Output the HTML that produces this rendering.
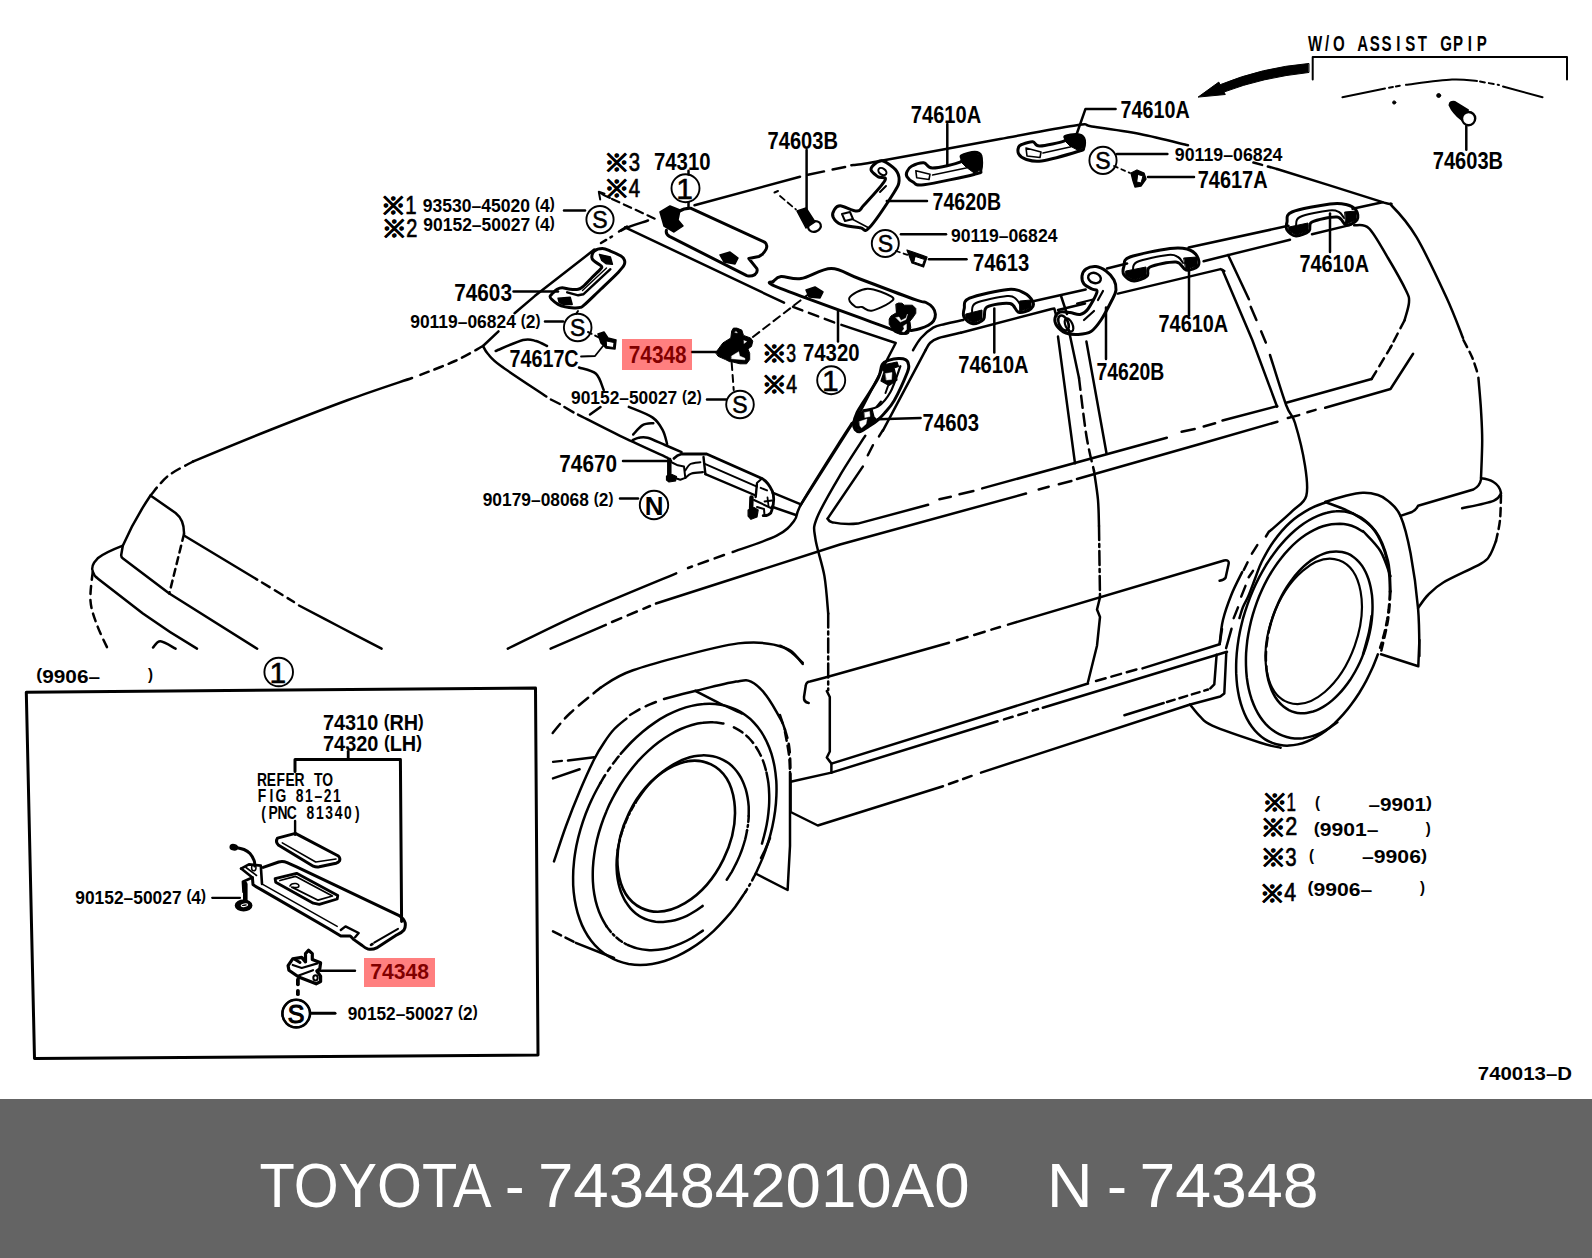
<!DOCTYPE html>
<html lang="en"><head><meta charset="utf-8"><title>TOYOTA - 7434842010A0 N - 74348</title>
<style>
html,body{margin:0;padding:0;background:#fff;}
body{width:1592px;height:1258px;overflow:hidden;position:relative;font-family:"Liberation Sans","Noto Sans CJK JP",sans-serif;}
svg{position:absolute;left:0;top:0;display:block}
svg path,svg circle,svg ellipse{fill:none;stroke:#000;stroke-width:2.5;stroke-linecap:round;stroke-linejoin:round}
svg text{font-family:"Liberation Sans","Noto Sans CJK JP",sans-serif;fill:#000;stroke:none}
svg text.b{font-weight:bold}
svg text.m{font-family:"Liberation Mono","DejaVu Sans Mono",monospace;font-weight:bold}
svg text.n{font-weight:normal}
svg text.sk{stroke:#000;stroke-width:0.55px}
svg text.sk3{stroke:#000;stroke-width:0.7px}
svg text.sk2{stroke:#000;stroke-width:1.1px}
svg text.k{font-family:"IPAGothic","DejaVu Sans","Noto Sans CJK JP",sans-serif;font-weight:bold;stroke:#000;stroke-width:0.5px}
svg g.ft text{fill:#fff;font-weight:normal;font-size:63.5px}
</style></head><body>
<svg width="1592" height="1258" viewBox="0 0 1592 1258">
<g id="car">
<path d="M483 346 C478.3 348.5 465.5 356.2 455 361 C444.5 365.8 425.8 372.7 420 375" stroke-dasharray="9 6"/>
<path d="M412 378 C401.3 381.7 371.7 391.3 348 400 C324.3 408.7 295.8 419.8 270 430 C244.2 440.2 205.8 456.2 193 461.5"/>
<path d="M193 461.5 C188.8 463.9 175.1 470.3 168 476 C160.9 481.7 153.4 492.2 150.5 495.5" stroke-dasharray="9 6"/>
<path d="M150.5 495.5 L175.6 513 Q184.4 520 184 534"/>
<path d="M184 534 L169.3 593.5" stroke-dasharray="7 5"/>
<path d="M150.5 495.5 Q134 520 122.8 545.7 L121.2 555 Q121 557 123 558.5 L169.3 593.5 L257.2 648.7"/>
<path d="M184.4 535.7 L257.2 579.6"/>
<path d="M262 582.5 L294 602" stroke-dasharray="9 6"/>
<path d="M299 605.5 C305.8 609.1 326.2 619.8 340 627 C353.8 634.2 374.7 645.1 381.6 648.7"/>
<path d="M122.8 545.7 Q104 553 97.7 558.3 Q90 566 93 572 Q94 576 97.7 578.4 L142.9 613.6 Q170 633 197 648.7"/>
<path d="M92.7 572 C92.3 576.8 89.8 592.2 90.5 601 C91.2 609.8 94.1 617 97 625 C99.9 633 105.9 644.8 107.7 648.7" stroke-dasharray="8 6"/>
<path d="M153 647.5 C154.2 646.5 156.7 641 160.5 641.2 C164.3 641.4 173.1 647.5 175.6 648.7"/>
<path d="M483 346 L498.5 331.3"/>
<path d="M514.6 313.2 L534.7 296.1 L594.3 249.6"/>
<path d="M601 243 L612 236.5" stroke-dasharray="6 5"/>
<path d="M621 230.6 C622.3 230 624.5 228.5 629 226.8 C633.5 225.1 644.8 221.6 648 220.5"/>
<path d="M619 231.5 L627 226.5"/>
<path d="M483 346 C483.8 347.3 485 350.7 488 354 C491 357.3 491.3 358.9 501 366 C510.7 373.1 538.8 391.4 546.3 396.5"/>
<path d="M550.9 399.5 L559.9 404"/>
<path d="M564.4 407 L573.5 412.4"/>
<path d="M578 414.6 C585 418.1 605 428.6 620 435.8 C635 443 659.8 454.1 667.7 457.8"/>
<path d="M495.7 351 C500.2 349.2 516.3 341.7 523 340 C529.7 338.3 532 340 536 341 C540 342 545.2 345.2 547 346"/>
<path d="M579 367.5 C581.8 368.6 591.9 370.1 596 373.8 C600.1 377.6 602.4 387.3 603.7 390"/>
<path d="M590 414.5 L600.5 407"/>
<path d="M628.8 406.9 C632.8 408.7 647.1 413.7 652.7 417.6 C658.4 421.5 660.3 425.8 662.7 430.2 C665.1 434.6 666.4 441.7 667.1 444"/>
<path d="M633.2 434.5 C634.8 432.9 639.2 427 642.6 425.1 C646 423.2 651.5 423.5 653.3 423.2"/>
<path d="M632.6 440.2 C633.6 439.8 636.3 438.1 638.8 437.7 C641.3 437.3 643.2 436.5 647.6 437.7 C652 438.9 659.3 442.6 665 445 C670.7 447.4 678.8 450.9 681.6 452.1"/>
<path d="M625.1 227.3 L784 302.7"/>
<path d="M793 306.8 L835.3 322.9" stroke-dasharray="10 7"/>
<path d="M841.4 324.9 L895.7 343 L861.5 409.3 L800 506"/>
<path d="M694.5 205.2 L800 176.7"/>
<path d="M808 174.8 L824 171.4"/>
<path d="M832.6 169.6 L845.1 167.1"/>
<path d="M851.4 165.2 C855.5 164.6 850.9 166.1 875.7 161.7 C900.5 157.3 966.5 145.1 1000 139 C1033.5 132.9 1061.4 127.3 1076.7 125.2 C1092 123.1 1081.2 125 1091.8 126.5 C1102.3 128 1124 130.9 1140 134 C1156 137.1 1180 143.4 1188 145.3"/>
<path d="M1253.4 162.5 L1277 169" stroke-dasharray="9 6"/>
<path d="M1277 169 C1294.3 174.4 1361.8 195.4 1381 201.6 C1400.2 207.8 1386.1 200.1 1392 206 C1397.9 211.9 1407.5 222.1 1416.5 237.2 C1425.5 252.3 1438.2 279.7 1446 296.5 C1453.8 313.3 1460.2 331.1 1463 338"/>
<path d="M1463.4 340 C1464.8 342.8 1469.7 351.7 1472 357 C1474.3 362.3 1476.3 369.5 1477.2 372" stroke-dasharray="8 5"/>
<path d="M1478.4 377.7 C1478.8 383.1 1480.4 399.5 1481 410 C1481.6 420.5 1482.2 429.1 1482.2 440.5 C1482.2 451.9 1481.2 471.9 1481 478.2"/>
<path d="M852 423 C850 426.1 848.4 428.2 840 441.5 C831.6 454.8 809.4 489.8 801.8 503 C794.2 516.2 798.5 515.1 794.3 520.6 C790.1 526.1 787 530.5 776.7 535.7 C766.4 540.9 740 549.3 732.7 552"/>
<path d="M724 555 L688 568" stroke-dasharray="10 7"/>
<path d="M676.2 573.4 C660.3 580.1 608.8 601 580.7 613.6 C552.6 626.2 520 642.9 507.8 648.7"/>
<path d="M865.3 435.7 C861.1 442.3 848.1 461.7 840 475.4 C831.9 489.1 821 507.5 816.9 518 C812.8 528.5 814 528.6 815.3 538.2 C816.5 547.9 822.2 563.3 824.4 575.9 C826.5 588.5 827.6 607.3 828.2 613.6"/>
<path d="M828.2 613.6 L828.2 690" stroke-dasharray="14 4 3 4"/>
<path d="M826.8 691 L829.8 697 L829.8 751.5 L826.8 757.5 L831.4 763.6 L831.4 772.6"/>
<path d="M550.6 648.7 L605.8 624.9"/>
<path d="M612 622 L650 606" stroke-dasharray="10 7"/>
<path d="M656 603.5 L840 544.5 L1026 493.5"/>
<path d="M1038.7 489.5 L1048.7 486.7"/>
<path d="M1058.8 484.2 L1071.4 481"/>
<path d="M1077 479 L1200 444 L1277.4 421.7"/>
<path d="M1287.8 418 L1299.2 415.1"/>
<path d="M1307.4 412.3 L1315.6 409.9"/>
<path d="M1325.2 407.8 L1390.5 389 L1413.1 353.8"/>
<path d="M925.6 350.2 L882.9 430.6"/>
<path d="M882.9 430.2 L879 436.4"/>
<path d="M872.9 445.2 L867.8 455.3"/>
<path d="M862.8 466.6 L827.6 518.6"/>
<path d="M827.6 518.6 Q829 522 832.7 522.4 Q845 525 857.8 523.6 L928.1 504.8"/>
<path d="M939.4 499.2 L950.8 496.7"/>
<path d="M959.5 494.2 L973.4 491"/>
<path d="M982.2 488.4 L1166.8 437.7"/>
<path d="M1181.6 431.8 L1194.7 429"/>
<path d="M1203.7 426.5 L1215.1 423.3"/>
<path d="M1222.5 420.5 L1277.2 406.1"/>
<path d="M1286.2 402.8 L1371.6 379"/>
<path d="M1371.6 379 L1392 345" stroke-dasharray="9 6"/>
<path d="M913 350.2 C914.3 348.2 917.6 341.8 921 338 C924.4 334.2 929.2 329.9 933.2 327.6 C937.2 325.3 940 325.3 945 324 C950 322.7 960.2 320.7 963.3 320"/>
<path d="M925.6 350.2 C926.3 349 927.9 345 930 343 C932.1 341 933.1 339.9 938.2 338.2 C943.3 336.5 957 333.7 960.8 332.8"/>
<path d="M960.8 332.8 L1051.5 309 L1054.3 308.6 L1056.3 316"/>
<path d="M1058 336.6 L1075 463.3"/>
<path d="M1061.2 296.5 L1067 314"/>
<path d="M1068.8 330 L1079 378"/>
<path d="M1079 378 C1080.2 387.6 1083.9 420.2 1086.4 435.7 C1088.9 451.2 1092.7 465 1094 470.9" stroke-dasharray="12 6"/>
<path d="M1094 470.9 C1094.7 475.8 1097.2 490.8 1098 500 C1098.8 509.2 1098.8 521.7 1099 526"/>
<path d="M1099 526 L1100 597.4" stroke-dasharray="14 4 3 4"/>
<path d="M1100 597.4 L1097 609.5 L1100 617 L1097 645.7 L1088 682"/>
<path d="M1086.4 341.5 L1106.5 453.3"/>
<path d="M1032 301.5 L1085.7 289.5"/>
<path d="M1107 268.5 L1127 263.5"/>
<path d="M1188.6 247.5 L1288.4 225.8"/>
<path d="M1352.5 208.8 L1382.6 202.2"/>
<path d="M1058 310 L1085 303.5"/>
<path d="M1203.6 261.2 L1290 239.7"/>
<path d="M1312 234.2 L1350.6 224.9"/>
<path d="M1117.9 293.6 L1220.6 269.1 L1224.4 271"/>
<path d="M1222.5 270 L1252.3 340 L1277.1 406.7"/>
<path d="M1228.1 255 L1248.9 299.3"/>
<path d="M1250.7 306.8 L1256.4 320"/>
<path d="M1261.1 331.3 L1265.8 342.6"/>
<path d="M1270 355 C1272.7 363.4 1282 394 1286.2 405.3 C1290.4 416.6 1291.9 412.9 1295 423 C1298.1 433.1 1303.1 453.5 1305 465.6 C1306.9 477.7 1308.4 488.2 1306.3 495.8 C1304.2 503.4 1298.5 505 1292.5 510.9 C1286.5 516.8 1273.8 527.6 1270 531"/>
<path d="M1354.2 225.3 C1356.7 225.8 1363.4 222.9 1369 228.3 C1374.6 233.8 1381.8 247.6 1388 258 C1394.2 268.4 1402.5 283.1 1406 290.5 C1409.5 297.9 1409.2 297.4 1409 302.4 C1408.8 307.3 1405.3 317.2 1404.6 320.2"/>
<path d="M1404.6 320.2 L1390.5 347.5" stroke-dasharray="9 6"/>
<path d="M1481 478.2 Q1489 479 1493.5 482 Q1500 486 1501 493"/>
<path d="M1501 495 C1500.8 499.2 1500.8 512.3 1500 520 C1499.2 527.7 1496.7 537.5 1496 541" stroke-dasharray="8 5"/>
<path d="M1496 541 C1495 543.3 1492.5 551.2 1490 555 C1487.5 558.8 1488.8 559 1481 563.6 C1473.2 568.2 1452.1 577.3 1443.3 582.5 C1434.5 587.7 1432.2 590.8 1428 595 C1423.8 599.2 1419.8 605.8 1418.1 608"/>
<path d="M1481 479.4 Q1480 486 1473.4 489.5 L1418.1 505.8 Q1416 510 1412 512 L1400.5 515.9"/>
<path d="M1462.1 508.3 C1467.3 507.1 1487 503.3 1493.5 500.8 C1500 498.3 1499.8 494.6 1501 493.3"/>
<path d="M1325.2 502 C1328.5 501 1338.7 497.5 1345 496 C1351.3 494.5 1357.4 493 1362.9 492.8 C1368.4 492.6 1373.8 493.7 1378 495 C1382.2 496.3 1384.2 497.3 1388 500.8 C1391.8 504.3 1396.7 507.1 1400.5 515.9 C1404.3 524.7 1407.7 538.1 1410.6 553.6 C1413.5 569.1 1416.6 591.7 1418.1 608.8 C1419.6 625.9 1419.2 648.1 1419.4 656"/>
<path d="M1325.2 502 C1329.8 503.9 1344.4 508.6 1352.8 513.4 C1361.2 518.2 1369.5 523.1 1375.4 531 C1381.3 538.9 1385.5 551 1388 561 C1390.5 571 1390.1 586.2 1390.5 591.3"/>
<path d="M1390.5 591.3 C1390.1 596.1 1389.6 609.9 1388 620 C1386.4 630.1 1382.2 646.7 1381 652" stroke-dasharray="8 5"/>
<path d="M1219.7 644 C1220.2 640 1220.9 628.5 1222.9 620.2 C1224.9 612 1228.3 602.5 1231.5 594.5 C1234.7 586.5 1240.4 575.8 1242.2 572"/>
<path d="M1239.5 618 C1240.1 616.2 1241.5 610.7 1243 607 C1244.5 603.3 1246.4 600.8 1248.4 596 C1250.4 591.2 1252.9 584.2 1255.1 578.5 C1257.3 572.8 1258.7 567.9 1261.7 561.8 C1264.8 555.7 1268.7 548.2 1273.4 541.7 C1278.1 535.2 1284.1 527.9 1290.1 522.5 C1296.1 517.1 1303.4 512.5 1309.3 509.2 C1315.2 505.9 1322.5 503.6 1325.2 502.5"/>
<path d="M1243.8 570 L1247.6 562.3"/>
<path d="M1251.9 553.7 L1257.3 545.1"/>
<path d="M1265.9 536.5 L1269 531.5"/>
<path d="M1226.1 648.1 L1231.5 628.8"/>
<path d="M1233.7 618.1 L1238 607.4"/>
<path d="M1241.2 596.6 L1245.5 585.9"/>
<path d="M1248.7 577.3 L1253 570.9"/>
<path d="M1352.8 513.5 C1351.4 513.2 1347.4 511.9 1344.6 511.5 C1341.8 511.2 1338.9 511.1 1335.9 511.3 C1333 511.4 1330 511.9 1327 512.7 C1324 513.4 1320.9 514.5 1317.8 515.8 C1314.7 517.1 1311.6 518.6 1308.6 520.5 C1305.5 522.3 1302.4 524.4 1299.4 526.8 C1296.4 529.1 1293.4 531.7 1290.4 534.5 C1287.5 537.3 1284.6 540.4 1281.8 543.6 C1278.9 546.8 1276.2 550.3 1273.6 553.9 C1270.9 557.5 1268.4 561.4 1265.9 565.3 C1263.5 569.3 1261.2 573.4 1259 577.6 C1256.8 581.9 1254.7 586.2 1252.8 590.7 C1250.9 595.1 1249.1 599.7 1247.5 604.3 C1245.9 608.9 1244.4 613.5 1243.1 618.2 C1241.9 622.9 1240.7 627.6 1239.8 632.3 C1238.8 637 1238.1 641.7 1237.5 646.3 C1236.9 650.9 1236.5 655.6 1236.3 660.1 C1236.1 664.6 1236.1 669.1 1236.2 673.4 C1236.4 677.7 1236.7 682 1237.2 686.1 C1237.7 690.1 1238.5 694.1 1239.3 697.9 C1240.2 701.7 1241.3 705.3 1242.5 708.7 C1243.7 712.1 1245.1 715.4 1246.7 718.4 C1248.3 721.4 1250 724.2 1251.9 726.8 C1253.7 729.3 1255.7 731.6 1257.9 733.7 C1260 735.8 1262.3 737.6 1264.7 739.1 C1267.1 740.7 1269.6 741.9 1272.2 742.9 C1274.9 743.9 1277.6 744.7 1280.4 745.1 C1283.1 745.6 1286 745.7 1289 745.6 C1291.9 745.5 1294.9 745.1 1297.9 744.4 C1300.9 743.7 1304 742.7 1307 741.5 C1310.1 740.3 1313.2 738.8 1316.3 737 C1319.3 735.2 1322.4 733.2 1325.5 730.9 C1328.5 728.6 1331.5 726.1 1334.5 723.4 C1337.4 720.6 1340.4 717.6 1343.2 714.4 C1346 711.2 1348.8 707.8 1351.4 704.2 C1354.1 700.7 1356.7 696.9 1359.2 693 C1361.6 689 1364 684.9 1366.2 680.8 C1368.4 676.6 1370.5 672.2 1372.5 667.8 C1374.4 663.4 1377 656.5 1377.9 654.3"/>
<path d="M1352.8 513.5 C1354.1 514.2 1358.4 515.9 1361.1 517.5 C1363.7 519.2 1366.2 521.2 1368.5 523.5 C1370.8 525.8 1373 528.4 1375 531.3 C1377 534.1 1378.8 537.3 1380.4 540.7 C1382 544.1 1383.5 547.8 1384.7 551.7 C1385.9 555.5 1386.9 559.7 1387.7 563.9 C1388.5 568.2 1389.1 572.7 1389.5 577.3 C1389.8 581.9 1389.8 589.2 1389.9 591.6"/>
<path d="M1389.9 591.6 C1389.8 593.1 1389.7 597.6 1389.5 600.7 C1389.2 603.8 1388.9 606.9 1388.6 610 C1388.2 613.1 1387.7 616.3 1387.2 619.4 C1386.6 622.6 1386 625.7 1385.3 628.9 C1384.6 632 1383.8 635.2 1382.9 638.3 C1382.1 641.5 1380.6 646.2 1380.1 647.7" stroke-dasharray="8 5"/>
<path d="M1362.7 531.5 C1361.5 530.8 1358 528.5 1355.6 527.4 C1353.1 526.3 1350.6 525.4 1348 524.8 C1345.3 524.2 1342.6 523.8 1339.9 523.7 C1337.1 523.7 1334.3 523.8 1331.5 524.2 C1328.7 524.7 1325.8 525.3 1322.9 526.3 C1320.1 527.2 1317.2 528.4 1314.3 529.8 C1311.4 531.2 1308.5 532.9 1305.7 534.8 C1302.9 536.7 1300 538.8 1297.3 541.1 C1294.5 543.5 1291.8 546.1 1289.2 548.8 C1286.5 551.6 1283.9 554.5 1281.5 557.7 C1279 560.8 1276.6 564.1 1274.3 567.6 C1272 571 1269.8 574.7 1267.7 578.4 C1265.7 582.1 1263.7 586 1261.9 590 C1260.1 593.9 1258.4 598 1256.9 602.1 C1255.4 606.3 1254 610.5 1252.8 614.7 C1251.5 619 1250.5 623.3 1249.6 627.6 C1248.7 631.8 1247.9 636.2 1247.3 640.4 C1246.8 644.7 1246.4 649 1246.1 653.2 C1245.9 657.4 1245.9 661.5 1246 665.6 C1246.1 669.7 1246.4 673.7 1246.8 677.5 C1247.3 681.4 1247.9 685.2 1248.7 688.8 C1249.5 692.4 1250.5 695.9 1251.6 699.2 C1252.8 702.5 1254 705.7 1255.5 708.7 C1256.9 711.6 1258.5 714.4 1260.2 717 C1261.9 719.6 1263.8 721.9 1265.8 724.1 C1267.8 726.2 1269.9 728.2 1272.1 729.8 C1274.3 731.5 1276.7 733 1279.1 734.2 C1281.5 735.4 1284.1 736.3 1286.7 737 C1289.3 737.7 1291.9 738.2 1294.7 738.4 C1297.4 738.6 1300.2 738.5 1303 738.2 C1305.8 737.8 1308.7 737.2 1311.5 736.4 C1314.4 735.6 1317.3 734.5 1320.2 733.1 C1323.1 731.8 1326 730.2 1328.8 728.4 C1331.6 726.6 1335.8 723.3 1337.3 722.3"/>
<path d="M1362.9 531 C1365.8 534.3 1375.8 543.5 1380.4 551 C1385 558.5 1388.8 572 1390.5 576.2"/>
<path d="M1270.6 624.1 C1271.1 622.5 1272.5 617.6 1273.7 614.3 C1274.8 611.1 1276 608 1277.4 604.9 C1278.7 601.8 1280.2 598.7 1281.7 595.8 C1283.3 592.8 1284.9 590 1286.7 587.2 C1288.4 584.5 1290.2 581.9 1292.1 579.4 C1293.9 576.9 1295.9 574.5 1297.9 572.3 C1299.8 570.1 1301.9 568 1304 566.1 C1306.1 564.2 1308.2 562.5 1310.3 560.9 C1312.5 559.4 1314.6 558 1316.8 556.8 C1319 555.6 1321.2 554.6 1323.3 553.8 C1325.5 553 1327.7 552.4 1329.8 552 C1331.9 551.6 1334 551.4 1336.1 551.4 C1338.1 551.4 1340.2 551.6 1342.1 551.9 C1344.1 552.3 1346 552.9 1347.8 553.7 C1349.7 554.5 1351.4 555.5 1353.1 556.7 C1354.8 557.8 1356.4 559.2 1357.9 560.8 C1359.4 562.3 1360.8 564 1362.1 565.9 C1363.4 567.8 1364.5 569.8 1365.6 572 C1366.7 574.2 1367.6 576.6 1368.5 579.1 C1369.3 581.6 1370 584.2 1370.6 586.9 C1371.2 589.6 1371.6 592.5 1372 595.4 C1372.3 598.4 1372.5 601.4 1372.5 604.5 C1372.6 607.6 1372.5 610.8 1372.3 614 C1372.1 617.2 1371.8 620.4 1371.3 623.7 C1370.8 627 1370.2 630.3 1369.5 633.6 C1368.8 636.9 1367.9 640.2 1366.9 643.4 C1366 646.7 1364.9 650 1363.7 653.1 C1362.5 656.3 1361.2 659.5 1359.8 662.5 C1358.4 665.6 1356.8 668.6 1355.2 671.5 C1353.6 674.3 1351.9 677.1 1350.2 679.8 C1348.4 682.5 1346.5 685 1344.6 687.4 C1342.7 689.8 1340.8 692.1 1338.7 694.2 C1336.7 696.4 1334.6 698.3 1332.5 700.1 C1330.4 701.9 1328.3 703.6 1326.1 705 C1324 706.5 1321.8 707.7 1319.6 708.8 C1317.5 709.9 1315.3 710.8 1313.1 711.5 C1311 712.1 1308.8 712.6 1306.7 712.9 C1304.6 713.2 1302.5 713.3 1300.5 713.2 C1298.4 713.1 1296.4 712.8 1294.5 712.2 C1292.6 711.7 1290.7 711 1288.9 710.1 C1287.2 709.2 1285.4 708.1 1283.8 706.8 C1282.2 705.5 1280.6 704.1 1279.2 702.4 C1277.8 700.8 1276.4 698.9 1275.2 697 C1274 695 1272.8 692.8 1271.8 690.5 C1270.9 688.2 1270 685.8 1269.2 683.2 C1268.4 680.7 1267.8 678 1267.3 675.2 C1266.8 672.4 1266.4 668 1266.2 666.5"/>
<path d="M1270.6 624.1 C1270.3 625.3 1269.4 628.9 1268.8 631.3 C1268.3 633.8 1267.9 636.2 1267.5 638.6 C1267.1 641 1266.8 643.4 1266.5 645.8 C1266.3 648.2 1266.1 650.5 1266 652.9 C1265.9 655.2 1265.8 657.5 1265.9 659.8 C1265.9 662.1 1266.1 665.4 1266.2 666.5" stroke-dasharray="9 5"/>
<ellipse cx="1313.7" cy="631.4" rx="43.5" ry="75.5" transform="rotate(-160.4 1313.7 631.4)" style="stroke-width:2.2;"/>
<path d="M1371.6 616 C1371.2 618.7 1370.4 625.6 1369 632 C1367.6 638.4 1364 650.6 1363 654.3"/>
<path d="M1381 654.3 L1418.3 666.3 L1419.4 640"/>
<path d="M1190 704.5 C1191.7 706.5 1196.5 713.1 1200.2 716.6 C1203.9 720.1 1202.2 721.2 1212.3 725.6 C1222.3 730 1249.1 739 1260.5 742.7 C1271.9 746.4 1277.2 746.9 1280.6 747.7"/>
<path d="M808.7 703 Q803.5 702 804 697 L805.7 686 Q806 682 810 681.5 L825.3 677.5 L949 642.7"/>
<path d="M957 640.3 L1000 627" stroke-dasharray="11 7"/>
<path d="M1008 624.6 L1224 560.5 Q1229.5 559.5 1228.6 564 L1225.6 577.8 Q1224 580 1219.6 580.8"/>
<path d="M831.4 763.6 L1088 683.5"/>
<path d="M1096 681 L1138 669" stroke-dasharray="10 6"/>
<path d="M1142.5 668.4 L1219.6 644.2 L1222 629"/>
<path d="M831.4 772.6 L997.5 721.3"/>
<path d="M1004 719.4 L1038 709" stroke-dasharray="9 6"/>
<path d="M1042.8 707.7 L1227 651.8"/>
<path d="M790.6 781.7 L831.4 772.6"/>
<path d="M790.6 781.7 L790.6 812 L817.8 825.5 L943 786.2"/>
<path d="M949 784 L977 774" stroke-dasharray="9 6"/>
<path d="M981 772.6 L1189.4 704.7 L1220.3 696.5 L1224.3 693.5 L1226.3 652.3"/>
<path d="M1124.4 715.2 L1163.7 703"/>
<path d="M1167 702 L1208 689.5" stroke-dasharray="8 5"/>
<path d="M1210.3 688.4 L1214.3 684.4 L1216.6 654.8"/>
<path d="M552.7 733 C555.6 729.7 562.3 720.5 570.3 713 C578.2 705.5 595.4 692 600.4 687.8" stroke-dasharray="12 7"/>
<path d="M600.4 687.8 C605.8 684.9 613.7 677 633 670.3 C652.3 663.6 695.9 652.2 716 647.6 C736.1 643 742.4 642.6 753.7 642.6 C765 642.6 775.6 644.2 783.8 647.6 C792 651 799.6 660.2 802.7 662.7"/>
<path d="M664 699 C669.3 697.6 684 693.7 696 690.8 C708 687.9 726.8 683.1 736 681.6 C745.2 680.1 746 679.3 751 681.6 C756 683.9 761.2 688.9 766.2 695.4 C771.2 701.9 778.2 714.7 781.3 720.5 C784.4 726.3 784.4 728.4 785 730"/>
<path d="M785 732 C785.7 735.8 788.2 748.3 789 755 C789.8 761.7 789.8 769.2 790 772" stroke-dasharray="9 5"/>
<path d="M790 772 L790 846 L787.6 890 L756.5 874"/>
<path d="M695.4 690.9 C699.5 693 712.2 699.7 720 703.5 C727.8 707.3 738.3 711.8 742 713.5"/>
<path d="M770 838 C769.2 840 766.5 846.7 765 850 C763.5 853.3 761.7 856.7 761 858"/>
<path d="M620.7 753.8 C622.5 751.8 627.8 745.7 631.5 742 C635.2 738.3 639.1 734.8 643 731.5 C646.8 728.3 650.8 725.3 654.8 722.6 C658.9 719.8 662.9 717.4 667 715.2 C671.1 713.1 675.2 711.2 679.3 709.6 C683.4 708.1 687.5 706.8 691.6 705.9 C695.6 704.9 699.6 704.3 703.5 704 C707.5 703.6 711.3 703.6 715.1 704 C718.9 704.3 722.5 704.9 726.1 705.9 C729.6 706.8 733 708.1 736.3 709.7 C739.6 711.2 742.7 713.1 745.6 715.3 C748.6 717.4 751.4 719.9 753.9 722.6 C756.5 725.3 758.9 728.3 761.1 731.6 C763.2 734.8 765.2 738.3 766.9 742.1 C768.7 745.8 770.2 749.7 771.5 753.9 C772.7 758 773.8 762.4 774.6 766.9 C775.4 771.4 775.9 776.1 776.3 780.9 C776.6 785.7 776.6 790.6 776.4 795.6 C776.2 800.7 775.8 805.8 775.1 811 C774.4 816.1 773.5 821.4 772.4 826.6 C771.2 831.9 769.8 837.2 768.2 842.4 C766.5 847.7 764.7 852.9 762.6 858.1 C760.5 863.2 756.9 870.8 755.8 873.4"/>
<path d="M755.8 873.4 C755.5 873.9 754.7 875.6 754.1 876.6 C753.6 877.7 753 878.8 752.4 879.9 C751.9 880.9 751.3 882 750.7 883.1 C750.1 884.1 749.5 885.2 748.9 886.2 C748.3 887.3 747.7 888.3 747 889.3 C746.4 890.4 745.4 891.9 745.1 892.4" stroke-dasharray="8 4 2 4"/>
<path d="M745.1 892.4 C743.5 894.7 738.9 901.9 735.5 906.4 C732.2 910.8 728.7 915.1 725 919.2 C721.4 923.3 717.6 927.2 713.8 930.8 C709.9 934.4 705.9 937.8 701.9 940.9 C697.9 944 693.7 946.8 689.6 949.4 C685.5 951.9 681.3 954.2 677.1 956.1 C672.9 958 668.7 959.7 664.6 961 C660.4 962.3 656.3 963.3 652.2 963.9 C648.1 964.6 644.1 964.9 640.1 964.9 C636.2 964.9 632.3 964.5 628.6 963.9 C624.9 963.2 621.3 962.2 617.8 960.9 C614.4 959.6 611 957.9 607.9 956 C604.7 954 601.7 951.8 598.9 949.2 C596.2 946.7 593.6 943.8 591.2 940.7 C588.8 937.6 586.6 934.2 584.7 930.6 C582.7 927 581 923.1 579.6 919 C578.1 914.9 576.8 910.6 575.9 906.1 C574.9 901.6 574.2 896.9 573.7 892.1 C573.2 887.3 573 882.3 573.1 877.3 C573.1 872.2 573.4 867 574 861.8 C574.5 856.5 575.4 851.2 576.4 845.8 C577.5 840.5 578.8 835.1 580.4 829.7 C581.9 824.4 583.7 819 585.7 813.7 C587.8 808.4 590 803.1 592.5 798 C594.9 792.8 599.1 785.4 600.5 782.8"/>
<path d="M600.5 782.8 C601 782 602.5 779.4 603.5 777.7 C604.6 776 605.6 774.3 606.7 772.7 C607.8 771 608.9 769.4 610.1 767.8 C611.2 766.1 612.3 764.6 613.5 763 C614.7 761.4 615.9 759.9 617.1 758.3 C618.3 756.8 620.1 754.6 620.7 753.8" stroke-dasharray="9 5 4 5"/>
<path d="M723.4 723.6 C721.7 723.4 716.7 722.4 713.3 722.3 C709.9 722.1 706.3 722.3 702.8 722.8 C699.2 723.2 695.5 724 691.9 725 C688.2 726.1 684.5 727.4 680.8 729 C677.1 730.6 673.4 732.5 669.8 734.7 C666.1 736.9 662.4 739.3 658.9 742 C655.3 744.7 651.8 747.6 648.3 750.8 C644.9 753.9 641.5 757.3 638.3 760.9 C635.1 764.5 632 768.3 629 772.2 C626 776.1 623.1 780.3 620.4 784.5 C617.8 788.8 615.2 793.2 612.9 797.7 C610.5 802.1 608.3 806.7 606.4 811.4 C604.4 816 602.6 820.8 601.1 825.5 C599.5 830.3 598.1 835.1 597 839.8 C595.9 844.6 594.9 849.4 594.3 854.1 C593.6 858.8 593.1 863.5 592.9 868 C592.7 872.6 592.7 877.1 592.9 881.5 C593.1 885.9 593.6 890.1 594.3 894.2 C595 898.3 595.9 902.3 597.1 906.1 C598.2 909.8 599.6 913.4 601.2 916.8 C602.7 920.2 605.6 924.7 606.5 926.3"/>
<path d="M606.5 926.3 C607 926.9 608.4 929 609.5 930.2 C610.5 931.5 611.6 932.7 612.7 933.9 C613.8 935.1 614.9 936.2 616.1 937.2 C617.3 938.3 618.5 939.2 619.8 940.2 C621 941.1 622.3 942 623.7 942.8 C625 943.6 627.1 944.6 627.8 945" stroke-dasharray="7 3 2 3"/>
<path d="M627.8 945 C629.3 945.5 633.9 947.6 637.2 948.4 C640.5 949.3 643.9 949.8 647.4 950 C650.9 950.3 654.5 950.2 658.1 949.8 C661.7 949.4 665.5 948.7 669.2 947.7 C672.9 946.6 676.7 945.3 680.5 943.7 C684.2 942.1 688 940.2 691.8 938 C695.5 935.8 701 931.8 702.9 930.6"/>
<path d="M733.9 727.3 C735.1 728 739.1 730 741.5 731.7 C743.9 733.4 746.2 735.4 748.4 737.5 C750.5 739.7 752.5 742 754.4 744.6 C756.2 747.1 757.9 749.9 759.4 752.8 C761 755.7 762.3 758.9 763.5 762.1 C764.7 765.4 766 770.6 766.5 772.4" stroke-dasharray="10 5"/>
<path d="M766.5 772.4 C766.8 774.1 768 779.4 768.4 783.1 C768.9 786.8 769.1 790.6 769.2 794.5 C769.3 798.4 769.3 802.4 769 806.4 C768.7 810.4 768.3 814.5 767.7 818.6 C767.1 822.8 766.3 826.9 765.3 831.1 C764.4 835.3 762.5 841.5 762 843.6"/>
<path d="M635.6 802.4 C636.6 801 639.4 796.5 641.5 793.7 C643.6 790.8 645.8 788.1 648 785.5 C650.3 783 652.7 780.5 655.1 778.2 C657.5 775.9 660 773.7 662.5 771.7 C665 769.7 667.6 767.9 670.3 766.2 C672.9 764.6 675.5 763.1 678.2 761.8 C680.8 760.5 683.5 759.4 686.2 758.5 C688.8 757.6 691.5 756.9 694.1 756.3 C696.7 755.8 699.3 755.5 701.8 755.4 C704.4 755.3 706.9 755.4 709.3 755.7 C711.8 756 714.2 756.5 716.4 757.1 C718.7 757.8 720.9 758.7 723 759.8 C725.1 760.9 727.2 762.2 729.1 763.6 C731 765.1 732.7 766.7 734.4 768.5 C736.1 770.4 737.6 772.3 739 774.5 C740.4 776.6 741.7 778.9 742.8 781.4 C743.9 783.8 744.8 786.4 745.7 789.1 C746.5 791.8 747.1 794.6 747.6 797.5 C748.1 800.4 748.5 803.4 748.7 806.5 C748.8 809.6 748.7 814.4 748.7 816"/>
<path d="M748.7 816 C748.7 816.4 748.7 817.6 748.6 818.5 C748.5 819.3 748.5 820.1 748.4 820.9 C748.3 821.7 748.2 822.5 748.2 823.4 C748.1 824.2 748 825 747.8 825.9 C747.7 826.7 747.6 827.5 747.5 828.3 C747.3 829.2 747.1 830.4 747 830.8" stroke-dasharray="6 3 2 3"/>
<path d="M747 830.8 C746.7 832.3 745.9 836.5 745.2 839.3 C744.4 842.1 743.6 845 742.6 847.8 C741.7 850.6 740.6 853.4 739.5 856.1 C738.3 858.9 737.1 861.6 735.7 864.3 C734.4 867 733 869.7 731.5 872.3 C729.9 874.8 727.5 878.6 726.7 879.8"/>
<path d="M702.7 905.9 C701.4 906.8 697.5 909.7 694.9 911.3 C692.2 913 689.6 914.5 686.9 915.8 C684.2 917.1 681.5 918.2 678.9 919 C676.2 919.9 673.5 920.6 670.9 921.1 C668.2 921.6 665.6 921.9 663.1 922 C660.5 922.1 658 922 655.6 921.7 C653.1 921.3 650.7 920.8 648.4 920.1 C646.2 919.4 643.9 918.4 641.8 917.3 C639.7 916.2 637.7 914.9 635.8 913.4 C633.9 911.9 632.2 910.2 630.5 908.3 C628.9 906.5 627.3 904.4 626 902.2 C624.6 900.1 623.4 897.7 622.3 895.2 C621.2 892.8 620.2 890.1 619.5 887.4 C618.7 884.7 618.1 881.8 617.6 878.8 C617.1 875.9 616.8 872.8 616.7 869.7 C616.5 866.5 616.5 863.3 616.7 860 C616.9 856.8 617.6 851.8 617.8 850.1"/>
<path d="M617.8 850.1 C618 848.8 618.7 844.7 619.3 842 C619.9 839.3 620.6 836.5 621.4 833.8 C622.2 831.1 623.2 828.4 624.2 825.7 C625.2 823 626.3 820.4 627.5 817.7 C628.6 815.1 629.9 812.5 631.3 810 C632.6 807.4 634.9 803.7 635.6 802.4" stroke-dasharray="6 3 2 3"/>
<ellipse cx="676.2" cy="836.2" rx="52.6" ry="79.8" transform="rotate(-154.1 676.2 836.2)" style="stroke-width:2.6;"/>
<path d="M554 861.4 C556 855.5 561.7 837.8 566 826 C570.3 814.2 575.3 801.6 580 790.5 C584.7 779.4 590.2 767.3 594.2 759.3 C598.2 751.2 600.9 747.2 604.3 742.2 C607.6 737.2 610.6 732.9 614.3 729 C618 725.1 624.4 720.3 626.4 718.6"/>
<path d="M630 715 C632.2 713.8 638.2 709.9 643 707.5 C647.8 705.1 656.3 701.9 659 700.8" stroke-dasharray="11 7"/>
<path d="M553 761.8 L562 760.8" style="stroke-width:2.2;"/>
<path d="M568 760.5 L594.2 757.3"/>
<path d="M553 778.4 L579.6 769.3"/>
<path d="M553 931.3 L575.8 942.8" stroke-dasharray="9 5"/>
<path d="M575.8 942.8 L614 958"/>
<path d="M780 645.7 C782 646.7 788.2 648.8 792 651.8 C795.8 654.8 800.9 662 802.7 664"/>
<path d="M780 715 C781.5 720.1 787.2 734.3 789 745.4 C790.8 756.5 790.3 775.7 790.6 781.7" stroke-dasharray="9 6"/>
</g>
<g id="parts" stroke-width="2.4">
<path d="M594.3 251.1 C596.1 249.6 599.7 248.6 602.4 248.6 C605.1 248.6 607.3 249.8 610.4 251.1 C613.5 252.3 618.6 254.6 621 256.1 C623.4 257.6 624 258.7 624.5 260.2 C625 261.7 625 263.2 624 265.2 C623 267.2 622.2 268.2 618.4 272.2 C614.6 276.2 606.7 283.6 601 289 C595.3 294.4 587.8 301.8 584.3 304.9 C580.8 308 582 306.9 580.3 307.4 C578.6 307.9 576.7 308 574.2 307.9 C571.7 307.8 567.9 307.5 565.2 306.9 C562.5 306.3 560.4 305.7 558.1 304.4 C555.8 303.1 552.9 300.6 551.6 299.3 C550.3 298 549.9 297.3 550.1 296.3 C550.3 295.3 551.4 294.5 552.6 293.3 C553.8 292.1 555.5 290.2 557.1 289.3 C558.7 288.4 560 287.8 562.2 287.8 C564.4 287.8 567.5 289.1 570.2 289.3 C572.9 289.6 576 289.8 578.2 289.3 C580.4 288.8 581 288.3 583.3 286.3 C585.6 284.3 589.1 280.4 592 277.5 C594.9 274.6 598.8 271.1 600.4 269.2 C602 267.3 602.4 267.5 601.4 266.2 C600.4 264.9 595.9 262.6 594.3 261.2 C592.7 259.8 591.8 259.3 591.8 257.6 C591.8 255.9 592.5 252.6 594.3 251.1Z" style="stroke-width:3;"/>
<path d="M610.4 269.2 L583.3 294.3 L578.2 295.3 L567.2 292.3" style="stroke-width:2.4;"/>
<path d="M606.5 268 L582.5 290.5" style="stroke-width:1.4;"/>
<path d="M599.5 254.5 L610.4 257.1 L612.4 264.2 L606.4 263.8 L601.8 260.5Z" style="stroke-width:1.5;fill:#000;"/>
<path d="M558.1 298.3 L570.2 297.3 L572.2 304.4 L563.2 304.4 L559.1 302.4Z" style="stroke-width:1.5;fill:#000;"/>
<path d="M889.3 360.2 C892 359.3 895.6 358.7 898.3 358.6 C901 358.5 903.7 358.7 905.4 359.6 C907.1 360.5 908.1 362.1 908.4 364.2 C908.7 366.3 909.8 366.2 907.4 372.2 C905 378.2 898.1 393.5 894.3 400.4 C890.4 407.3 887.1 410 884.3 413.4 C881.4 416.8 879.6 418.5 877.2 420.5 C874.9 422.5 873 423.7 870.2 425.5 C867.4 427.3 862.7 430.8 860.2 431.5 C857.7 432.2 856.2 430.8 855.1 429.5 C854 428.2 853.3 426.4 853.6 423.5 C853.9 420.6 855.5 415.9 857.1 412.4 C858.7 408.9 859.7 408.1 863.2 402.4 C866.7 396.7 875 384.6 878.2 378.2 C881.4 371.8 880.4 367.2 882.3 364.2 C884.1 361.2 886.6 361.1 889.3 360.2Z" style="stroke-width:3;"/>
<path d="M900.4 366.2 C898.7 370.6 894 385.6 890.3 392.3 C886.6 399 882.7 403.4 878.2 406.4 C873.7 409.4 865.7 409.7 863.2 410.4" style="stroke-width:2.2;"/>
<path d="M882.5 365 L897 362 L898.5 366.5 L894 368 L897 380 L889 385.5 L881 381 L884 372Z" style="stroke-width:1.2;fill:#000;"/>
<path d="M885.5 373.5 L892 372.5 L891.5 379.5 L886.5 380Z" style="stroke-width:0.4;fill:#fff;stroke:#fff;"/>
<path d="M888 386 L885.5 393" style="stroke-width:2;"/>
<path d="M881 401.5 L876.5 407" style="stroke-width:2;"/>
<path d="M857 413 L872 409 L874 417 L877 420 L863 430.5 L856 429.5 L854.5 423Z" style="stroke-width:1.2;fill:#000;"/>
<path d="M859.5 421.5 L867 419 L866 424 L861.5 428 L860 426Z" style="stroke-width:0.4;fill:#fff;stroke:#fff;"/>
<path d="M864.5 412.5 L869.5 411.5 L870 416.5 L865 417.5Z" style="stroke-width:0.4;fill:#fff;stroke:#fff;"/>
<path d="M907 171.6 C907.8 169.8 908.7 167.8 911.5 166.3 C914.3 164.8 920.3 162.5 923.8 162.8 C927.3 163.1 926.5 168.2 932.6 168 C938.8 167.8 955.9 164 960.7 161.9 C965.5 159.8 959.2 157.3 961.6 155.7 C964 154.1 971.6 152.2 974.8 152.2 C978 152.2 979.9 152.8 980.9 155.7 C981.9 158.6 981.9 166.7 980.9 169.8 C979.9 172.9 984.3 171.7 974.8 174.2 C965.3 176.7 934.1 183.4 923.8 184.7 C913.5 186 916 183.4 913.2 182.1 C910.4 180.8 908 178.6 907 176.8 C906 175.1 906.2 173.3 907 171.6Z" style="stroke-width:3;"/>
<path d="M915.8 170.7 L916.7 177.7 L929 179.5 L930 174.2 L915.8 170.7" style="stroke-width:1.6;"/>
<path d="M932.6 175 L966 168 L974.8 162.8" style="stroke-width:1.6;"/>
<path d="M961.6 156 L974.8 152.5 L980.5 156 L980.5 169.5 L974.8 173.5 L966 167 L961 162Z" style="stroke-width:1;fill:#000;"/>
<path d="M1018.7 146.9 C1019.3 145.3 1019.9 145.2 1022.2 144.3 C1024.5 143.4 1029.9 141.4 1032.8 141.7 C1035.7 142 1034.5 146.2 1039.8 146 C1045.1 145.8 1060.2 142.4 1064.5 140.8 C1068.8 139.2 1063.2 137.4 1065.3 136.4 C1067.3 135.4 1073.7 134.3 1076.8 134.6 C1079.9 134.9 1082.6 135.9 1083.8 138.1 C1085 140.3 1084.7 145.6 1083.8 147.8 C1082.9 150 1085.5 149.1 1078.5 151.3 C1071.5 153.5 1050.4 159.7 1041.6 161 C1032.8 162.3 1029.6 160.4 1025.8 159.2 C1022 158 1019.9 156.1 1018.7 154 C1017.5 151.9 1018.1 148.5 1018.7 146.9Z" style="stroke-width:3;"/>
<path d="M1026 148 L1027 156 L1040 157.5 L1041 152 L1026 148" style="stroke-width:1.6;"/>
<path d="M1043 153 L1070 147 L1078 142" style="stroke-width:1.6;"/>
<path d="M1065.3 137 L1076.8 135 L1083.4 138.5 L1083.4 147.5 L1078.5 150.5 L1070 146 L1065 141Z" style="stroke-width:1;fill:#000;"/>
<path d="M871 169.8 C870.7 167.5 874.2 164.3 876.3 162.8 C878.3 161.3 880.1 159.8 883.3 161 C886.5 162.2 893 166.6 895.6 169.8 C898.2 173 899.4 176.6 899.1 180.4 C898.8 184.2 898.9 184.8 893.9 192.7 C888.9 200.6 874.8 222 869.2 227.8 C863.6 233.7 865.1 228.4 860.4 227.8 C855.7 227.2 845.6 226.1 841.1 224.3 C836.6 222.6 834.4 219.7 833.2 217.3 C832 215 832.9 212.1 834.1 210.2 C835.3 208.3 836.4 205.7 840.2 205.8 C844 206 853 211.2 857 211.1 C861 211 859.3 210.1 864 205 C868.7 199.9 882.7 185.1 885 180.4 C887.3 175.7 880.3 178.6 878 176.8 C875.7 175 871.3 172.1 871 169.8Z" style="stroke-width:3;"/>
<ellipse cx="882.4" cy="171.6" rx="4.5" ry="3" transform="rotate(35 882.4 171.6)" style="stroke-width:2;"/>
<path d="M842 214 L850 212 L853 219 L845 221Z" style="stroke-width:2;"/>
<path d="M886 186 L880 192" style="stroke-width:2;"/>
<path d="M852 219 L869 228" style="stroke-width:1.6;"/>
<path d="M964.2 308.7 C965.1 305.5 962.2 301.4 969.5 298.2 C976.8 295 999.1 290.3 1008.2 289.4 C1017.3 288.5 1019.9 290.8 1024 292.9 C1028.1 294.9 1031.6 299.1 1032.8 301.7 C1034 304.3 1033.3 306.9 1031 308.7 C1028.7 310.5 1022.2 313.2 1018.7 312.3 C1015.2 311.4 1015.3 304.4 1010 303.5 C1004.7 302.6 991.4 304.4 987 307 C982.6 309.6 985.9 316.5 983.6 319.3 C981.3 322.1 976.2 324 973 323.7 C969.8 323.4 965.7 320 964.2 317.5 C962.7 315 963.3 311.9 964.2 308.7Z" style="stroke-width:3;"/>
<path d="M972 313 C972.7 311.3 970.2 305.8 976 303 C981.8 300.2 1000.3 296.7 1007 296 C1013.7 295.3 1013.7 297.3 1016 299 C1018.3 300.7 1020.2 304.8 1021 306" style="stroke-width:2;"/>
<path d="M966 314 L982 310 L982 319 L973 323 L966 318Z" style="stroke-width:1;fill:#000;"/>
<path d="M1020 301 L1031 300 L1031 308 L1020 311Z" style="stroke-width:1;fill:#000;"/>
<path d="M1082 276 C1082.3 273.5 1083.7 270.6 1086 269 C1088.3 267.4 1092.7 266.2 1096 266.5 C1099.3 266.8 1103 268.8 1106 271 C1109 273.2 1112.3 276.8 1114 280 C1115.7 283.2 1116.3 286.7 1116 290 C1115.7 293.3 1114.5 295 1112 300 C1109.5 305 1104.5 314.8 1101 320 C1097.5 325.2 1094.8 329.1 1091 331.5 C1087.2 333.9 1082.2 334.2 1078 334.5 C1073.8 334.8 1069.5 334.4 1066 333 C1062.5 331.6 1058.8 328.5 1057 326 C1055.2 323.5 1054.5 320.3 1055 318 C1055.5 315.7 1057.5 312.9 1060 312 C1062.5 311.1 1066.7 312.1 1070 312.5 C1073.3 312.9 1077 315.1 1080 314.5 C1083 313.9 1085.2 312.8 1088 309 C1090.8 305.2 1096.3 295.3 1097 292 C1097.7 288.7 1094.2 290.3 1092 289 C1089.8 287.7 1085.7 286.2 1084 284 C1082.3 281.8 1081.7 278.5 1082 276Z" style="stroke-width:3;"/>
<ellipse cx="1094.5" cy="278" rx="6.5" ry="5" transform="rotate(20 1094.5 278)" style="stroke-width:2.4;"/>
<ellipse cx="1063.5" cy="323" rx="4.5" ry="8" transform="rotate(-25 1063.5 323)" style="stroke-width:2.6;"/>
<ellipse cx="1069" cy="325" rx="3.5" ry="7" transform="rotate(-25 1069 325)" style="stroke-width:2.2;"/>
<path d="M1103 291 L1098 300" style="stroke-width:2.2;"/>
<path d="M1094 311 L1084 320" style="stroke-width:2.2;"/>
<path d="M1077 303.5 L1093 299.5" style="stroke-width:2;"/>
<path d="M1124 266 C1125 263 1122.3 259.9 1130 257 C1137.7 254.1 1160.5 249.8 1170 248.5 C1179.5 247.2 1182.5 247.8 1187 249 C1191.5 250.2 1195.2 253.2 1197 256 C1198.8 258.8 1199.8 263.7 1198 266 C1196.2 268.3 1189.7 270.7 1186 270 C1182.3 269.3 1182 262.5 1176 262 C1170 261.5 1154.8 264.7 1150 267 C1145.2 269.3 1149.7 273.7 1147 276 C1144.3 278.3 1137.8 281.2 1134 281 C1130.2 280.8 1125.7 277.5 1124 275 C1122.3 272.5 1123 269 1124 266Z" style="stroke-width:3;"/>
<path d="M1133 271 C1133.7 269.5 1131.2 264.7 1137 262 C1142.8 259.3 1161.2 255.8 1168 255 C1174.8 254.2 1175.5 255.7 1178 257 C1180.5 258.3 1182.2 262 1183 263" style="stroke-width:2;"/>
<path d="M1126 271 L1146 267 L1146 276 L1134 280 L1126 276Z" style="stroke-width:1;fill:#000;"/>
<path d="M1184 258 L1197 257 L1197 266 L1186 269Z" style="stroke-width:1;fill:#000;"/>
<path d="M1287 222 C1287.8 219 1284.8 215 1292 212 C1299.2 209 1321 205.2 1330 204 C1339 202.8 1341.7 203.5 1346 204.5 C1350.3 205.5 1354.2 207.4 1356 210 C1357.8 212.6 1358.7 217.5 1357 220 C1355.3 222.5 1349.3 225.5 1346 225 C1342.7 224.5 1342.7 217.5 1337 217 C1331.3 216.5 1316.7 219.7 1312 222 C1307.3 224.3 1311.7 228.7 1309 231 C1306.3 233.3 1299.7 236.2 1296 236 C1292.3 235.8 1288.5 232.3 1287 230 C1285.5 227.7 1286.2 225 1287 222Z" style="stroke-width:3;"/>
<path d="M1296 226 C1296.7 224.5 1294.5 219.6 1300 217 C1305.5 214.4 1322.5 211.3 1329 210.5 C1335.5 209.7 1336.5 210.8 1339 212 C1341.5 213.2 1343.2 217 1344 218" style="stroke-width:2;"/>
<path d="M1289 227 L1308 223 L1308 231 L1296 235 L1289 231Z" style="stroke-width:1;fill:#000;"/>
<path d="M1345 212 L1356 211 L1356 220 L1346 224Z" style="stroke-width:1;fill:#000;"/>
<path d="M679.4 211.2 Q684 208 690.5 208.2 L765 242.4 Q768 245 766 249.4 Q763 255 758.9 256.5 L748.8 258.5 L756.9 268.6 Q758 272 754.9 274.6 Q751 277 746.8 275.6 L669.4 236.4 Q665.5 234 666.4 230.3" style="stroke-width:3;"/>
<path d="M660 212 L670 206 L680 210 L678 220 L683 226 L674 232 L664 226Z" style="stroke-width:1.5;fill:#000;"/>
<path d="M720 255 L730 252 L738 258 L735 264 L724 262Z" style="stroke-width:1.5;fill:#000;"/>
<path d="M773 281.6 C774.3 280.8 776.3 277.1 781 276.6 C785.7 276.1 792.6 279.9 801 278.6 C809.4 277.3 821.5 268.5 831.3 268.6 C841.1 268.7 846 273.8 860 279 C874 284.2 904.2 295.8 915.2 299.7 C926.2 303.6 923.1 301.2 926 302.5 C928.9 303.8 931.2 305.7 932.8 307.6 C934.4 309.6 935.3 312 935.4 314.2 C935.5 316.4 934.8 319 933.6 320.8 C932.4 322.6 930.7 323.9 928.4 325.2 C926.1 326.5 922.5 327.8 919.6 328.7 C916.7 329.6 912.4 330.2 911 330.5" style="stroke-width:3;"/>
<path d="M773 281.6 C774.3 282.8 759.5 280.1 781 288.7 C802.5 297.2 881.6 325.5 901.7 332.9" style="stroke-width:3;"/>
<path d="M849.4 297.7 C851.4 294.7 860.5 288.9 867.5 288.7 C874.5 288.5 887.9 294.4 891.6 296.7 C895.3 299 893 300.3 889.6 302.7 C886.2 305.1 876.1 310.1 871.5 310.8 C866.9 311.5 864.7 307.7 862 307 C859.3 306.3 857.5 308.4 855.4 306.8 C853.3 305.2 847.4 300.7 849.4 297.7Z" style="stroke-width:2;"/>
<path d="M806 290 L815 287 L823 292 L820 298 L809 297Z" style="stroke-width:1.5;fill:#000;"/>
<path d="M896.1 304.1 L898.5 303 L902 303.2 L904.2 305.2 L912.5 305.2 L915.8 308.5 L915.8 313.3 L912.5 318.1 L909.9 321.2 L910.8 327.8 L908.6 333.5 L906.4 334.4 L900.2 334.4 L894.5 332.2 L889.2 324.3 L889.2 319 L891 316 L896.1 312.9Z" style="stroke-width:1;fill:#000;"/>
<path d="M896 317.5 L899 317 L901 320.5 L906 318 L907.5 314 L906 319.5 L900.5 322Z" style="stroke-width:0.4;fill:#fff;stroke:#fff;"/>
<path d="M903.5 326 L906.5 324 L906.5 329.5 L904 332 L902 331.5 L904 329Z" style="stroke-width:0.4;fill:#fff;stroke:#fff;"/>
<path d="M715.8 352.5 L722.9 342.9 L730.8 338 L731.7 331 L733.4 328.1 L736.9 328.1 L741.8 330.1 L743.5 335.4 L750.6 338 L752.8 341.1 L751.5 346.4 L747.9 349 L749.7 353.4 L749.7 359.6 L746.6 363.8 L740 363.8 L733.4 362.2 L729.9 361.8 L725.5 359.6 L718.5 356.5Z" style="stroke-width:1;fill:#000;"/>
<path d="M731.7 356 L738.7 351.7 L739.6 356 L744.9 358.3 L744.9 359.8 L731.7 358.7Z" style="stroke-width:0.5;fill:#fff;stroke:#fff;"/>
<path d="M735 332.5 L737.5 333 L736 331.2Z" style="stroke-width:0.3;fill:#fff;stroke:#fff;"/>
<path d="M744 340.5 L746.8 341.5 L744.2 343.5Z" style="stroke-width:0.3;fill:#fff;stroke:#fff;"/>
<path d="M598 334 L604 332 L608 338 L616 340 L615 349 L606 348 L601 343Z" style="stroke-width:1.5;fill:#000;"/>
<path d="M606.5 341 L614 342.5 L613.5 347.5 L607 346.5Z" style="stroke-width:1;fill:#fff;"/>
<path d="M603 346 L595 356 L581 356.5" style="stroke-width:1.8;"/>
<path d="M797 211 L806 208 L815 222 L806 228Z" style="stroke-width:1.5;fill:#000;"/>
<ellipse cx="814.5" cy="226.5" rx="6.5" ry="5.2" transform="rotate(-20 814.5 226.5)" style="stroke-width:2.2;"/>
<path d="M774.5 192.5 L778 191" style="stroke-width:2;"/>
<path d="M780 196 L796 209.5" stroke-dasharray="6 4" style="stroke-width:1.8;"/>
<path d="M1449.5 105 Q1450 101 1455 102 L1468 110 L1462 120 Q1453 113 1449.5 105Z" style="stroke-width:2;fill:#000;"/>
<circle cx="1468.6" cy="118.6" r="6.6" style="stroke-width:2.4;fill:#fff;"/>
<path d="M907 250 L913 252 L927 257 L923.5 267 L912 263Z" style="stroke-width:1.3;fill:#000;"/>
<path d="M915.5 256.5 L924.5 259.5 L922.5 265 L914 262Z" style="stroke-width:1;fill:#fff;"/>
<path d="M1131 173 L1137 170 L1144 173 L1146 179 L1141 186 L1135 187 L1133 181Z" style="stroke-width:1.3;fill:#000;"/>
<path d="M1138 174.5 L1143 176 L1141 183 L1137 182Z" style="stroke-width:1;fill:#fff;"/>
<path d="M674 458.4 Q677 455 681.6 454 L706.7 454 L762 478.5 Q768.2 482 772.6 491.7 Q775.5 501 770.8 513 Q768 516 763.2 515.6" style="stroke-width:2.8;"/>
<path d="M669.3 459.7 L669.3 478" style="stroke-width:4.5;"/>
<path d="M666.5 476 L672 474.5 L676.5 476.5 L675.5 481 L669 482 L666.5 480Z" style="stroke-width:1.2;fill:#000;"/>
<path d="M672 462.5 L677.8 465.3 L684 466.6 L685.3 477.9 L680.3 479.8 L675 478" style="stroke-width:2;"/>
<path d="M685.3 470.4 C686.1 469.3 687.9 465.4 690.4 464 C692.9 462.6 698.7 462.5 700.4 462.2" style="stroke-width:2;"/>
<path d="M685.3 477.9 C686.3 477.2 688.7 474.4 691.6 473.5 C694.5 472.6 701 472.4 702.9 472.2" style="stroke-width:2.2;"/>
<path d="M703.5 457 L705.4 474.1" style="stroke-width:2.4;"/>
<path d="M705.4 464.1 L756.9 486.7" style="stroke-width:2;"/>
<path d="M705.4 474.1 L755.7 495.5" style="stroke-width:2.4;"/>
<path d="M756.9 482.9 L762 478.5" style="stroke-width:2;"/>
<path d="M756.9 484 L755.7 497" style="stroke-width:2.4;"/>
<path d="M751.5 497.5 L751 512" style="stroke-width:4.5;"/>
<path d="M748.1 510 L754 507.5 L758.2 510 L757 517 L751 519.3 L748.1 516Z" style="stroke-width:1.2;fill:#000;"/>
<path d="M754 500 L772 508.5" style="stroke-width:2;"/>
<path d="M757 507 L764 509 L764.5 515.5" style="stroke-width:2;"/>
<path d="M767.5 497.5 L768.5 506" style="stroke-width:1.8;"/>
<path d="M764.5 501.5 L772 500.5" style="stroke-width:1.8;"/>
<path d="M760.7 487.9 L767 490.4" style="stroke-width:2;"/>
</g>
<path d="M772.5 492.7 L800.9 504.3"/>
<path d="M772 506.8 L795.9 515"/>
<g id="leaders" stroke-width="1.8">
<circle cx="600" cy="219.6" r="13.6" style="stroke-width:1.9;"/>
<circle cx="577.7" cy="327.5" r="13.8" style="stroke-width:1.9;"/>
<circle cx="740" cy="404.5" r="13.8" style="stroke-width:1.9;"/>
<circle cx="885.3" cy="243.5" r="13.5" style="stroke-width:1.9;"/>
<circle cx="1103" cy="160.4" r="13.6" style="stroke-width:1.9;"/>
<circle cx="296.2" cy="1013.6" r="13.8" style="stroke-width:1.9;"/>
<circle cx="654" cy="505" r="14.2" style="stroke-width:1.9;"/>
<circle cx="685.5" cy="188.3" r="14" style="stroke-width:1.9;"/>
<circle cx="831.2" cy="380.3" r="14" style="stroke-width:1.9;"/>
<circle cx="278.7" cy="672" r="14.3" style="stroke-width:1.9;"/>
<path d="M564 210.5 L585 210.5"/>
<path d="M513.5 291.5 L558 291.5"/>
<path d="M545 321.5 L563 321.5"/>
<path d="M692 352 L717 352"/>
<path d="M707 399.5 L726 399.5"/>
<path d="M623 461 L671 461"/>
<path d="M620 498.5 L638 498.5"/>
<path d="M806.6 150 L806.6 211"/>
<path d="M947.3 124 L947.3 165.4"/>
<path d="M886.8 201.1 L927 201.1"/>
<path d="M900.9 234.2 L946 234.2"/>
<path d="M929 259.3 L966.5 259.3"/>
<path d="M1076.7 134 L1085.5 108.9 L1115.6 108.9"/>
<path d="M1117 154 L1167.4 154"/>
<path d="M1148 177 L1194 177"/>
<path d="M1330 213.5 L1330 252"/>
<path d="M1189 261 L1189 315.5"/>
<path d="M994.3 308.6 L994.3 352.6"/>
<path d="M1106 307.5 L1106 359"/>
<path d="M877.9 419.3 L920.6 418"/>
<path d="M838 310.8 L838 341.5"/>
<path d="M688.5 202.3 L688.5 207.5"/>
<path d="M688.5 170.8 L688.5 174.5"/>
<path d="M1466.3 126 L1466.3 149.7"/>
<path d="M612 199 L658.3 220.3" stroke-dasharray="8 5" style="stroke-width:2.2;"/>
<path d="M610 198 Q603 195.5 598.8 191.8 M598.8 191.8 L604.5 193.6 M598.8 191.8 L600.2 199.5" style="stroke-width:2;"/>
<path d="M752.9 337 L809.2 293.7" stroke-dasharray="8 5" style="stroke-width:2;"/>
<path d="M731.7 363 L733.7 390" stroke-dasharray="7 5" style="stroke-width:2;"/>
<path d="M588 332 L600 338" stroke-dasharray="4 4" style="stroke-width:2;"/>
<path d="M896 251 L908 255" stroke-dasharray="4 4" style="stroke-width:1.8;"/>
<path d="M1114 166 L1130 173" stroke-dasharray="4 4" style="stroke-width:1.8;"/>
<path d="M578 311 L576 314" style="stroke-width:2;"/>
<path d="M1312.7 79.5 L1312.7 57 L1567 57 L1567 79.5" style="stroke-width:2;"/>
<path d="M1308.6 63.5 Q1262 67.5 1220.1 84.7 L1218.8 82.1 L1198.1 97.1 L1225.3 94.5 L1224 92 Q1262 77.5 1308.6 72.5Z" style="stroke-width:1;fill:#000;"/>
<path d="M1342.4 97.2 L1385 88.5" style="stroke-width:2;"/>
<path d="M1389 87.8 L1401 85.5" stroke-dasharray="4 3" style="stroke-width:2;"/>
<path d="M1406 84.8 C1413.7 83.9 1440.2 80.2 1452 79.6 C1463.8 79 1472.8 80.8 1477 81" style="stroke-width:2;"/>
<path d="M1480 81.5 L1499 85" stroke-dasharray="5 4" style="stroke-width:2;"/>
<path d="M1503 86.5 L1542.5 97.2" style="stroke-width:2;"/>
<circle cx="1394.2" cy="102.5" r="1.6" style="stroke-width:1;fill:#000;"/>
<circle cx="1438.7" cy="95.5" r="2" style="stroke-width:1;fill:#000;"/>
</g>
<g id="inset">
<circle cx="296.2" cy="1013.6" r="13.8" style="stroke-width:2.6;"/>
<path d="M26.3 692.2 L535.5 688 L538 1055 L34.5 1058.5Z" style="stroke-width:3;"/>
<path d="M295 771.5 L295 759.6 L400.4 759.6 L401.6 921.4" style="stroke-width:3;"/>
<path d="M348.2 751.5 L348.2 759" style="stroke-width:2.8;"/>
<path d="M295.1 820.9 L295.1 834.7" style="stroke-width:2.4;"/>
<path d="M277.5 838.1 L295.4 833.4 L338.4 856 Q340.5 858 339.6 860.8 Q338.5 862.6 336 863.2 L319.3 866.8 Q316 867.3 313.3 866.2 L278.7 845.3 Q275 842 277.5 838.1Z" style="stroke-width:3;"/>
<path d="M282.3 842.9 L315.7 862 L336 859" style="stroke-width:1.6;"/>
<path d="M263.2 867.4 L278.7 862 Q283 861 287.1 862.6 L296.6 866.8 L399.2 915.7 Q404 918.5 405.2 922.9 Q405.8 927 404 930 Q401.5 933 396.9 934.8 L376.6 947.9 Q372.5 950 368.2 949.1 Q365 948 362.2 945.5 L353.9 939.6 L350.3 936 L340.8 936 L328.8 928.8 L260.8 889.4 Q254.5 886 253 884.7 L252.4 877.5" style="stroke-width:3;"/>
<path d="M263.2 884.7 L337.2 926.4" style="stroke-width:1.5;"/>
<path d="M340.8 930 L345.5 926.4 L358.7 933 L355.1 937.2" style="stroke-width:2.4;"/>
<path d="M374.2 942.6 L398 928.8" style="stroke-width:2;"/>
<path d="M371 944.8 L372.5 944" style="stroke-width:2.6;"/>
<path d="M275.1 878.7 L296.6 873.3 L337.8 895.4 L337.2 899 L319.3 904.4 L313.3 903.2 L275.7 882.3Z" style="stroke-width:2.8;"/>
<path d="M279.9 880.5 L295.4 876.3 L332.4 896 L318.1 900.2 L291.8 887.1" style="stroke-width:1.8;"/>
<path d="M290 886 Q291 883 296 883.5 Q300 884.5 298.5 887 Q296 888 293.5 887.3" style="stroke-width:1.6;"/>
<path d="M236 847.5 C237.3 847.8 241.7 848.5 244 849.5 C246.3 850.5 248.3 851.7 250 853.6 C251.7 855.5 253.4 858.7 254.2 860.8 C255 862.9 254.7 865.1 254.8 866" style="stroke-width:3;"/>
<ellipse cx="233.8" cy="847.2" rx="3.6" ry="2.6" transform="rotate(10 233.8 847.2)" style="stroke-width:1.5;fill:#000;"/>
<path d="M241.1 868.6 L248.9 864.4 L260.8 865.6 L262 884" style="stroke-width:2.6;"/>
<path d="M241.1 868.6 L252.4 877.5 L242.9 881.7 L243.5 891.8" style="stroke-width:2.6;"/>
<path d="M246 867.5 L256.5 875.5" style="stroke-width:1.6;"/>
<ellipse cx="253.8" cy="867.8" rx="2.2" ry="3" transform="rotate(0 253.8 867.8)" style="stroke-width:1.5;"/>
<path d="M245.3 884 L245.3 901" style="stroke-width:4.6;"/>
<ellipse cx="243.6" cy="905.5" rx="7.2" ry="4.2" transform="rotate(0 243.6 905.5)" style="stroke-width:3.4;fill:#000;"/>
<ellipse cx="244.4" cy="905.2" rx="3.2" ry="1.3" transform="rotate(-10 244.4 905.2)" style="stroke-width:1.1;stroke:#fff;"/>
<path d="M212.2 897.8 L240 897.8" style="stroke-width:2.2;"/>
<path d="M320 970.8 L355 970.8" style="stroke-width:2.4;"/>
<path d="M310.6 1013.3 L335 1013.3" style="stroke-width:3;"/>
<path d="M297.9 979.6 L297.9 984.3" style="stroke-width:3.8;"/>
<path d="M297.9 990.8 L297.9 994.2" style="stroke-width:3.8;"/>
<path d="M288.1 965.7 L292.7 958.9 L301.7 957.4 L305.5 961.9 L305.5 953.6 L308.5 950.2 L312.3 953.6 L312.3 959.6 L320.6 962.7 L319.8 968.7 L316.8 971 L320.6 976.3 L320.6 981.5 L316.1 983.8 L298.7 977 L288.9 970.2Z" style="stroke-width:3.2;"/>
<path d="M292.7 965 L301.7 968 L317.5 963.4" style="stroke-width:2.2;"/>
<path d="M298.7 975.5 L313 970.2" style="stroke-width:2.2;"/>
<path d="M295 959.5 L300 962.5" style="stroke-width:3;"/>
<ellipse cx="315.5" cy="977.8" rx="2.2" ry="2.6" transform="rotate(0 315.5 977.8)" style="stroke-width:2;"/>
</g>
<g id="labels">
<text class="k" x="605.6" y="170.8" font-size="22.5">※</text>
<text class="n sk3" x="628.7" y="170.5" font-size="25.1" textLength="11.3" lengthAdjust="spacingAndGlyphs">3</text>
<text class="b" x="654" y="169.8" font-size="24.1" textLength="56.5" lengthAdjust="spacingAndGlyphs">74310</text>
<text class="k" x="605.6" y="197.3" font-size="22.5">※</text>
<text class="n sk3" x="628.7" y="197" font-size="25.1" textLength="11.3" lengthAdjust="spacingAndGlyphs">4</text>
<text class="k" x="382.1" y="214.3" font-size="22.5">※</text>
<text class="n sk3" x="405.2" y="214" font-size="25.1" textLength="11.3" lengthAdjust="spacingAndGlyphs">1</text>
<text class="b" x="422.8" y="211.7" font-size="18.5" textLength="131.9" lengthAdjust="spacingAndGlyphs"><tspan dy="0">93530–45020 </tspan><tspan font-size="15.9" dy="-2.4">(</tspan><tspan dy="2.4">4</tspan><tspan font-size="15.9" dy="-2.4">)</tspan></text>
<text class="k" x="383.1" y="237.3" font-size="22.5">※</text>
<text class="n sk3" x="406.2" y="237" font-size="25.1" textLength="11.1" lengthAdjust="spacingAndGlyphs">2</text>
<text class="b" x="423.3" y="230.5" font-size="18.5" textLength="131.4" lengthAdjust="spacingAndGlyphs"><tspan dy="0">90152–50027 </tspan><tspan font-size="15.9" dy="-2.4">(</tspan><tspan dy="2.4">4</tspan><tspan font-size="15.9" dy="-2.4">)</tspan></text>
<text class="b" x="454.2" y="300.5" font-size="24.1" textLength="57.8" lengthAdjust="spacingAndGlyphs">74603</text>
<text class="b" x="410.2" y="328" font-size="18.5" textLength="130.2" lengthAdjust="spacingAndGlyphs"><tspan dy="0">90119–06824 </tspan><tspan font-size="15.9" dy="-2.4">(</tspan><tspan dy="2.4">2</tspan><tspan font-size="15.9" dy="-2.4">)</tspan></text>
<text class="b" x="509.5" y="367" font-size="24.1" textLength="69.1" lengthAdjust="spacingAndGlyphs">74617C</text>
<text class="b" x="628.8" y="362.5" font-size="24.1" textLength="57.8" lengthAdjust="spacingAndGlyphs">74348</text>
<text class="b" x="571" y="404.2" font-size="18.5" textLength="130.7" lengthAdjust="spacingAndGlyphs"><tspan dy="0">90152–50027 </tspan><tspan font-size="15.9" dy="-2.4">(</tspan><tspan dy="2.4">2</tspan><tspan font-size="15.9" dy="-2.4">)</tspan></text>
<text class="b" x="559.3" y="472.2" font-size="24.1" textLength="57.7" lengthAdjust="spacingAndGlyphs">74670</text>
<text class="b" x="482.7" y="506.3" font-size="18.5" textLength="130.7" lengthAdjust="spacingAndGlyphs"><tspan dy="0">90179–08068 </tspan><tspan font-size="15.9" dy="-2.4">(</tspan><tspan dy="2.4">2</tspan><tspan font-size="15.9" dy="-2.4">)</tspan></text>
<text class="b" x="767.6" y="149" font-size="24.1" textLength="70.4" lengthAdjust="spacingAndGlyphs">74603B</text>
<text class="b" x="910.8" y="122.7" font-size="24.1" textLength="70.4" lengthAdjust="spacingAndGlyphs">74610A</text>
<text class="b" x="932.6" y="209.8" font-size="24.1" textLength="68.4" lengthAdjust="spacingAndGlyphs">74620B</text>
<text class="b" x="951" y="241.8" font-size="18.5" textLength="106.4" lengthAdjust="spacingAndGlyphs">90119–06824</text>
<text class="b" x="973" y="271" font-size="24.1" textLength="56.3" lengthAdjust="spacingAndGlyphs">74613</text>
<text class="b" x="1120.6" y="118" font-size="24.1" textLength="69.1" lengthAdjust="spacingAndGlyphs">74610A</text>
<text class="b" x="1174.8" y="160.8" font-size="18.5" textLength="107.7" lengthAdjust="spacingAndGlyphs">90119–06824</text>
<text class="b" x="1197.7" y="188" font-size="24.1" textLength="69.9" lengthAdjust="spacingAndGlyphs">74617A</text>
<text class="b" x="1299.4" y="271.6" font-size="24.1" textLength="69.6" lengthAdjust="spacingAndGlyphs">74610A</text>
<text class="b" x="1158.5" y="331.8" font-size="24.1" textLength="69.7" lengthAdjust="spacingAndGlyphs">74610A</text>
<text class="b" x="1096.5" y="380.3" font-size="24.1" textLength="67.8" lengthAdjust="spacingAndGlyphs">74620B</text>
<text class="b" x="958.3" y="372.8" font-size="24.1" textLength="70.3" lengthAdjust="spacingAndGlyphs">74610A</text>
<text class="b" x="922.6" y="430.6" font-size="24.1" textLength="56.4" lengthAdjust="spacingAndGlyphs">74603</text>
<text class="k" x="763.1" y="361.8" font-size="22.5">※</text>
<text class="n sk3" x="786.2" y="361.5" font-size="25.1" textLength="9.8" lengthAdjust="spacingAndGlyphs">3</text>
<text class="b" x="803" y="361.3" font-size="24.1" textLength="56.5" lengthAdjust="spacingAndGlyphs">74320</text>
<text class="k" x="763.1" y="393.1" font-size="22.5">※</text>
<text class="n sk3" x="786.2" y="392.8" font-size="25.1" textLength="10.8" lengthAdjust="spacingAndGlyphs">4</text>
<text class="b" x="1432.8" y="168.6" font-size="24.1" textLength="70.2" lengthAdjust="spacingAndGlyphs">74603B</text>
<text class="b" font-size="21.5" text-anchor="middle" transform="scale(0.7 1)" x="1878.8 1895.8 1912.8 1929.8 1946.8 1963.8 1980.8 1997.8 2014.8 2031.8 2048.8 2065.8 2082.8 2099.8 2116.8" y="50.6">W/O ASSIST GPIP</text>
<text class="n sk" x="600" y="227.8" font-size="23" text-anchor="middle">S</text>
<text class="n sk" x="577.7" y="335.7" font-size="23" text-anchor="middle">S</text>
<text class="n sk" x="740" y="412.7" font-size="23" text-anchor="middle">S</text>
<text class="n sk" x="885.3" y="251.7" font-size="23" text-anchor="middle">S</text>
<text class="n sk" x="1103" y="168.6" font-size="23" text-anchor="middle">S</text>
<text class="n sk2" x="296.2" y="1022.5" font-size="25" text-anchor="middle">S</text>
<text class="b" x="654.2" y="514.6" font-size="26" text-anchor="middle">N</text>
<text class="n sk" x="684.7" y="198.9" font-size="30" text-anchor="middle">1</text>
<text class="n sk" x="830.4" y="390.9" font-size="30" text-anchor="middle">1</text>
<text class="n sk" x="277.9" y="682.6" font-size="30" text-anchor="middle">1</text>
<text class="b" x="36.3" y="682.8" font-size="19" textLength="63.7" lengthAdjust="spacingAndGlyphs"><tspan font-size="16.3" dy="-2.5">(</tspan><tspan dy="2.5">9906–</tspan></text>
<text class="b" x="148" y="682.8" font-size="19" textLength="5" lengthAdjust="spacingAndGlyphs"><tspan font-size="16.3" dy="-2.5">)</tspan></text>
<text class="b" x="323" y="730.3" font-size="21.5" textLength="100.8" lengthAdjust="spacingAndGlyphs"><tspan dy="0">74310 </tspan><tspan font-size="18.5" dy="-2.9">(</tspan><tspan dy="2.9">RH</tspan><tspan font-size="18.5" dy="-2.9">)</tspan></text>
<text class="b" x="323" y="750.7" font-size="21.5" textLength="99" lengthAdjust="spacingAndGlyphs"><tspan dy="0">74320 </tspan><tspan font-size="18.5" dy="-2.9">(</tspan><tspan dy="2.9">LH</tspan><tspan font-size="18.5" dy="-2.9">)</tspan></text>
<text class="b" font-size="18" text-anchor="middle" transform="scale(0.77 1)" x="340.4 352.5 364.7 376.8 389 401.1 413.3 425.5" y="785.8">REFER TO</text>
<text class="b" font-size="18" text-anchor="middle" transform="scale(0.77 1)" x="340.4 352.5 364.7 376.8 389 401.1 413.3 425.5 437.6" y="802.4">FIG 81–21</text>
<text class="b" font-size="18" text-anchor="middle" transform="scale(0.77 1)" x="342.4 354.6 366.8 378.9 391.1 403.2 415.4 427.5 439.7 451.8 464" y="818.9">(PNC 81340)</text>
<text class="b" x="75.3" y="903.8" font-size="18.5" textLength="130.7" lengthAdjust="spacingAndGlyphs"><tspan dy="0">90152–50027 </tspan><tspan font-size="15.9" dy="-2.4">(</tspan><tspan dy="2.4">4</tspan><tspan font-size="15.9" dy="-2.4">)</tspan></text>
<text class="b" x="370.3" y="979.1" font-size="21.6" textLength="58.7" lengthAdjust="spacingAndGlyphs">74348</text>
<text class="b" x="347.7" y="1019.8" font-size="18.5" textLength="129.9" lengthAdjust="spacingAndGlyphs"><tspan dy="0">90152–50027 </tspan><tspan font-size="15.9" dy="-2.4">(</tspan><tspan dy="2.4">2</tspan><tspan font-size="15.9" dy="-2.4">)</tspan></text>
<text class="k" x="1263.5" y="810.8" font-size="22.5">※</text>
<text class="n sk3" x="1286.6" y="810.5" font-size="25.1" textLength="9.4" lengthAdjust="spacingAndGlyphs">1</text>
<text class="b" x="1315" y="810.5" font-size="19" textLength="5" lengthAdjust="spacingAndGlyphs"><tspan font-size="16.3" dy="-2.5">(</tspan></text>
<text class="b" x="1368.4" y="810.5" font-size="19" textLength="63.6" lengthAdjust="spacingAndGlyphs"><tspan dy="0">–9901</tspan><tspan font-size="16.3" dy="-2.5">)</tspan></text>
<text class="k" x="1262.1" y="835.6" font-size="22.5">※</text>
<text class="n sk3" x="1285.2" y="835.3" font-size="25.1" textLength="12" lengthAdjust="spacingAndGlyphs">2</text>
<text class="b" x="1313.8" y="836" font-size="19" textLength="64.8" lengthAdjust="spacingAndGlyphs"><tspan font-size="16.3" dy="-2.5">(</tspan><tspan dy="2.5">9901–</tspan></text>
<text class="b" x="1425.7" y="836" font-size="19" textLength="5" lengthAdjust="spacingAndGlyphs"><tspan font-size="16.3" dy="-2.5">)</tspan></text>
<text class="k" x="1262.1" y="865.9" font-size="22.5">※</text>
<text class="n sk3" x="1285.2" y="865.6" font-size="25.1" textLength="11.3" lengthAdjust="spacingAndGlyphs">3</text>
<text class="b" x="1309" y="863.4" font-size="19" textLength="5" lengthAdjust="spacingAndGlyphs"><tspan font-size="16.3" dy="-2.5">(</tspan></text>
<text class="b" x="1362" y="863.4" font-size="19" textLength="65" lengthAdjust="spacingAndGlyphs"><tspan dy="0">–9906</tspan><tspan font-size="16.3" dy="-2.5">)</tspan></text>
<text class="k" x="1261.1" y="901.5" font-size="22.5">※</text>
<text class="n sk3" x="1284.2" y="901.2" font-size="25.1" textLength="11.8" lengthAdjust="spacingAndGlyphs">4</text>
<text class="b" x="1307.4" y="895.7" font-size="19" textLength="64.8" lengthAdjust="spacingAndGlyphs"><tspan font-size="16.3" dy="-2.5">(</tspan><tspan dy="2.5">9906–</tspan></text>
<text class="b" x="1420" y="895.7" font-size="19" textLength="5" lengthAdjust="spacingAndGlyphs"><tspan font-size="16.3" dy="-2.5">)</tspan></text>
<text class="b" x="1477.8" y="1080.2" font-size="19" textLength="94.2" lengthAdjust="spacingAndGlyphs">740013–D</text>
</g>
<g id="hl">
<rect x="622" y="339" width="70" height="31" fill="#ff0000" fill-opacity="0.5"/>
<rect x="364" y="958" width="71" height="29" fill="#ff0000" fill-opacity="0.5"/>
</g>
<rect x="0" y="1099" width="1592" height="159" fill="#646464"/>
<g id="footer" class="ft">
<text x="259.5" y="1207.3" textLength="232" lengthAdjust="spacingAndGlyphs">TOYOTA</text>
<text x="505" y="1207.3" textLength="19.5" lengthAdjust="spacingAndGlyphs">-</text>
<text x="538" y="1207.3" textLength="431.5" lengthAdjust="spacingAndGlyphs">7434842010A0</text>
<text x="1047" y="1207.3" textLength="45.5" lengthAdjust="spacingAndGlyphs">N</text>
<text x="1107" y="1207.3" textLength="20" lengthAdjust="spacingAndGlyphs">-</text>
<text x="1139.5" y="1207.3" textLength="179" lengthAdjust="spacingAndGlyphs">74348</text>
</g>
</svg>
</body></html>
